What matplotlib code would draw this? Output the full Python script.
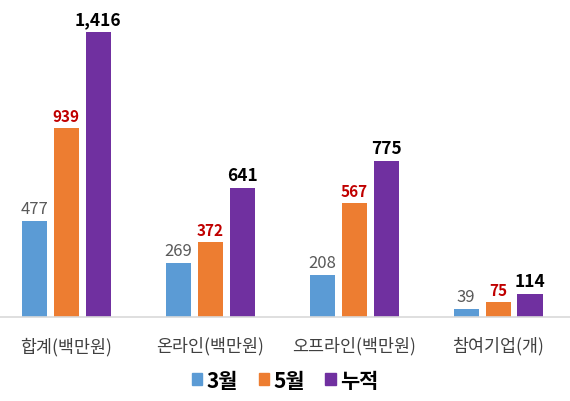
import numpy as np
import matplotlib.pyplot as plt
from matplotlib.patches import Patch

plt.rcParams['font.family'] = ['Noto Sans CJK KR', 'DejaVu Sans']

categories = ['합계(백만원)', '온라인(백만원)', '오프라인(백만원)', '참여기업(개)']
series_names = ['3월', '5월', '누적']
mar = [477, 269, 208, 39]
may = [939, 372, 567, 75]
total = [1416, 641, 775, 114]

colors = ['#5B9BD5', '#ED7D31', '#7030A0']
label_styles = [
    dict(color='#595959', fontsize=12, fontweight='normal'),
    dict(color='#C00000', fontsize=11, fontweight='bold'),
    dict(color='black', fontsize=12.5, fontweight='bold'),
]

fig = plt.figure(figsize=(5.7, 4.02), dpi=100)
ax = fig.add_axes([0, 0.209, 1, 0.791])

x = np.arange(len(categories))
width = 0.174
step = 0.222

for i, (vals, col, st) in enumerate(zip([mar, may, total], colors, label_styles)):
    pos = x + (i - 1) * step
    ax.bar(pos, vals, width=width, color=col)
    for p, v in zip(pos, vals):
        ax.annotate(f'{v:,}', (p, v), xytext=(0, 3), textcoords='offset points',
                    ha='center', va='bottom', **st)

ax.set_xlim(-0.46, 3.5)
ax.set_ylim(0, 1580)
ax.set_yticks([])
ax.set_xticks(x)
ax.set_xticklabels(categories, fontsize=12.5, color='#404040')
ax.tick_params(axis='x', length=0, pad=14)
for s in ['top', 'left', 'right']:
    ax.spines[s].set_visible(False)
ax.spines['bottom'].set_color('#D9D9D9')
ax.spines['bottom'].set_linewidth(1.2)

handles = [Patch(color=c) for c in colors]
fig.legend(handles, series_names, loc='center', bbox_to_anchor=(0.5, 0.052),
           ncol=3, frameon=False, handlelength=0.5, handleheight=0.5,
           handletextpad=0.2, columnspacing=1.0,
           prop={'family': ['Noto Sans CJK KR', 'DejaVu Sans'], 'weight': 'bold', 'size': 15})

fig.savefig('out.png', dpi=100)
